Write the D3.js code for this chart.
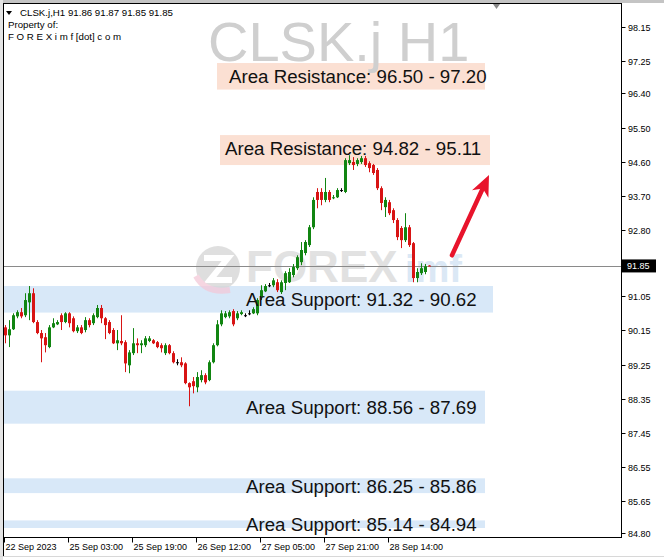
<!DOCTYPE html>
<html><head><meta charset="utf-8">
<script src="https://cdn.jsdelivr.net/npm/d3@7"></script>
<style>body{margin:0;background:#fff}svg{display:block}</style>
</head><body><svg id="c" width="664" height="560"></svg>
<script>
// ---------- DATA ----------
const chartTitle = "CLSK.j H1";
const headerLines = ["CLSK.j,H1  91.86 91.87 91.85 91.85", "Property of:", "F O R E X i m f [dot] c o m"];

const opens = [90.23,90.02,90.18,90.52,90.63,90.55,90.89,91.13,90.37,90.08,89.97,89.71,90.23,90.31,90.55,90.37,90.60,90.47,90.13,90.23,
90.16,90.42,90.34,90.50,90.74,90.47,90.37,90.16,89.81,89.87,89.84,89.23,89.55,89.81,89.76,89.76,89.87,89.89,89.84,89.76,
89.55,89.76,89.55,89.31,89.31,89.28,88.76,88.81,88.65,88.84,88.97,88.84,89.31,89.76,90.31,90.50,90.52,90.66,90.47,90.58,
90.55,90.60,90.60,90.60,91.03,91.18,91.34,91.34,91.42,91.16,91.40,91.42,91.61,91.79,91.95,92.19,92.40,92.87,93.80,93.80,
93.59,93.80,93.64,93.66,93.85,93.80,94.56,94.59,94.54,94.59,94.69,94.56,94.51,94.38,93.90,93.40,93.53,93.32,93.06,92.85,
92.53,92.87,92.45,91.53,91.66,91.69,91.86];
const highs = [90.29,90.42,90.60,90.68,90.74,91.13,91.32,91.26,90.42,90.16,90.08,90.29,90.47,90.42,90.60,90.63,90.63,90.52,90.29,90.29,
90.50,90.47,90.60,90.82,90.82,90.50,90.42,90.21,90.16,90.55,89.89,89.63,90.21,89.94,89.89,90.00,90.00,89.92,89.87,89.81,
89.81,89.79,89.60,89.39,89.44,89.31,88.78,88.92,89.05,89.10,89.02,89.36,89.81,90.42,90.68,90.66,90.68,90.71,90.66,90.68,
90.60,90.68,90.76,91.00,91.34,91.37,91.40,91.53,91.50,91.47,91.71,91.79,91.90,92.13,92.48,92.53,92.93,93.66,93.90,93.90,
94.17,93.85,93.72,93.90,93.90,94.69,94.77,94.72,94.69,94.75,94.75,94.61,94.54,94.43,93.95,93.66,93.59,93.37,93.11,92.90,
93.24,92.93,92.48,91.79,91.92,91.90,91.87];
const lows = [89.81,89.71,90.16,90.47,90.47,90.50,90.42,90.34,90.05,89.31,89.57,89.68,90.21,90.29,90.16,90.34,90.23,90.10,90.08,90.05,
90.10,90.23,90.29,90.47,90.34,89.92,90.05,89.79,89.63,89.76,89.05,89.02,89.50,89.55,89.55,89.71,89.84,89.79,89.68,89.57,
89.50,89.52,89.28,89.23,89.18,88.73,88.15,88.49,88.52,88.78,88.73,88.81,89.28,89.73,90.26,90.47,90.47,90.26,90.42,90.55,
90.50,90.55,90.58,90.55,90.95,91.16,91.29,91.29,91.16,91.11,91.21,91.40,91.55,91.74,91.87,92.13,92.35,92.82,93.37,93.45,
93.53,93.53,93.61,93.64,93.80,93.77,94.51,94.38,94.48,94.54,94.46,94.32,94.25,93.85,93.32,93.14,93.19,92.98,92.53,92.32,
92.48,92.35,91.42,91.42,91.61,91.63,91.85];
const closes = [90.02,90.18,90.55,90.63,90.52,90.95,91.13,90.37,90.08,89.94,89.76,90.23,90.34,90.37,90.37,90.60,90.34,90.13,90.23,90.08,
90.42,90.29,90.55,90.74,90.47,90.29,90.08,89.81,89.89,89.81,89.28,89.57,89.81,89.76,89.81,89.94,89.94,89.81,89.71,89.68,
89.76,89.55,89.31,89.31,89.23,88.76,88.65,88.68,88.92,88.97,88.78,89.31,89.76,90.31,90.60,90.60,90.63,90.31,90.60,90.63,
90.55,90.60,90.71,90.95,91.21,91.32,91.34,91.47,91.21,91.42,91.66,91.69,91.82,92.08,92.27,92.48,92.87,93.59,93.59,93.59,
93.80,93.59,93.66,93.85,93.85,94.64,94.64,94.51,94.64,94.69,94.51,94.43,94.30,93.90,93.51,93.59,93.24,93.06,92.61,92.53,
92.87,92.40,91.53,91.69,91.79,91.84,91.85];

const timeTickIndex = [0,16,32,48,64,80,96];
const timeTickLabels = ["22 Sep 2023","25 Sep 03:00","25 Sep 19:00","26 Sep 12:00","27 Sep 05:00","27 Sep 21:00","28 Sep 14:00"];
const priceTicks = [98.15,97.25,96.40,95.50,94.60,93.70,92.80,91.05,90.15,89.25,88.35,87.45,86.55,85.65,84.80];
const priceTickLabels = ["98.15","97.25","96.40","95.50","94.60","93.70","92.80","91.05","90.15","89.25","88.35","87.45","86.55","85.65","84.80"];
const lastPrice = 91.85;
const lastPriceLabel = "91.85";

const zoneKind   = ["res","res","sup","sup","sup","sup"];
const zoneLabels = ["Area Resistance: 96.50 - 97.20","Area Resistance: 94.82 - 95.11","Area Support: 91.32 - 90.62",
                    "Area Support: 88.56 - 87.69","Area Support: 86.25 - 85.86","Area Support: 85.14 - 84.94"];
const zoneLabelHigh = [97.20, 95.11, 91.32, 88.56, 86.25, 85.14];
const zoneLabelLow  = [96.50, 94.82, 90.62, 87.69, 85.86, 84.94];
const zoneBoxHigh   = [97.20, 95.30, 91.32, 88.56, 86.25, 85.14];
const zoneBoxLow    = [96.50, 94.51, 90.62, 87.69, 85.86, 84.94];
const zoneStartBar  = [53, 53.75, -5, -5, -5, -5];
const zoneEndBar    = [120, 121.25, 122, 120, 120, 120];
const zoneLabelBar  = [56, 55, 60.25, 60.25, 60.25, 60.25];

const arrowFrom = [111.75, 92.13];
const arrowTo   = [121, 94.25];

// ---------- LAYOUT ----------
const W = 664, H = 560;
const plot = {left: 3.5, top: 3.5, right: 621.5, bottom: 537.5};
const svg = d3.select("#c");
const x = d3.scaleLinear().domain([0, 106]).range([5, 429]);
const y = d3.scaleLinear().domain([84.80, 98.15]).range([533.3, 27]);
const FONT = "'Liberation Sans', Arial, sans-serif";
const GREEN = "#118511", RED = "#d81414";

// window frame pieces
svg.append("rect").attr("x",0).attr("y",0).attr("width",W).attr("height",3).attr("fill","#c4c4c4");
svg.append("rect").attr("x",0).attr("y",0).attr("width",3).attr("height",H).attr("fill","#e4e4e4");
svg.append("line").attr("x1",0).attr("x2",W).attr("y1",556.5).attr("y2",556.5).attr("stroke","#d8d8d8");

const clipId = "plotclip";
svg.append("clipPath").attr("id",clipId).append("rect")
  .attr("x",plot.left).attr("y",plot.top).attr("width",plot.right-plot.left).attr("height",plot.bottom-plot.top);
const g = svg.append("g").attr("clip-path",`url(#${clipId})`);

// zones
const zones = zoneLabels.map((t,i)=>({t, kind:zoneKind[i], bh:zoneBoxHigh[i], bl:zoneBoxLow[i],
  lh:zoneLabelHigh[i], ll:zoneLabelLow[i], s:zoneStartBar[i], e:zoneEndBar[i], lx:zoneLabelBar[i]}));
g.selectAll("rect.zone").data(zones).join("rect").attr("class","zone")
  .attr("x",d=>x(d.s)).attr("width",d=>x(d.e)-x(d.s))
  .attr("y",d=>y(d.bh)).attr("height",d=>y(d.bl)-y(d.bh))
  .attr("fill",d=>d.kind==="res"?"#fbe0d3":"#d8e8f8");

// title watermark
g.append("text").attr("x",208).attr("y",61).attr("font-family",FONT).attr("font-size",56)
  .attr("fill","#cfcfcf").text(chartTitle);

// logo watermark
const wm = g.append("g").attr("opacity",0.75);
wm.append("circle").attr("cx",218).attr("cy",268).attr("r",22).attr("fill","#d4d4d4");
wm.append("path").attr("d","M204,258 L228,258 L210,280 L232,280").attr("fill","none").attr("stroke","#fff").attr("stroke-width",6);
wm.append("path").attr("d","M196,276 Q206,294 230,290").attr("fill","none").attr("stroke","#f3c9d8").attr("stroke-width",6);
wm.append("text").attr("x",246).attr("y",282).attr("font-family",FONT).attr("font-weight","bold")
  .attr("font-size",44).attr("fill","#d8d8d8").text("FOREX");
wm.append("text").attr("x",405).attr("y",282).attr("font-family",FONT).attr("font-weight","bold")
  .attr("font-size",38).attr("fill","#cfe1f2").text("imf");

// current price line
g.append("line").attr("x1",plot.left).attr("x2",plot.right)
  .attr("y1",Math.round(y(lastPrice))+0.5).attr("y2",Math.round(y(lastPrice))+0.5)
  .attr("stroke","#8a8a8a").attr("stroke-width",1);

// candles
const bars = opens.map((o,i)=>({i,o,h:highs[i],l:lows[i],c:closes[i]}));
const col = d=> d.c>d.o?GREEN:(d.c<d.o?RED:"#000");
const cg = g.append("g");
cg.selectAll("line.wick").data(bars).join("line").attr("class","wick")
  .attr("x1",d=>Math.round(x(d.i))+0.5).attr("x2",d=>Math.round(x(d.i))+0.5)
  .attr("y1",d=>y(d.h)).attr("y2",d=>y(d.l)).attr("stroke",col).attr("stroke-width",1);
cg.selectAll("rect.body").data(bars).join("rect").attr("class","body")
  .attr("x",d=>Math.round(x(d.i))-1).attr("width",3)
  .attr("y",d=>y(Math.max(d.o,d.c)))
  .attr("height",d=>Math.max(1,Math.abs(y(d.o)-y(d.c))))
  .attr("fill",col);

// zone labels
g.selectAll("text.zl").data(zones).join("text").attr("class","zl")
  .attr("x",d=>x(d.lx)).attr("y",d=>(y(d.lh)+y(d.ll))/2+7)
  .attr("font-family",FONT).attr("font-size",18.7).attr("fill","#111").text(d=>d.t);

// arrow
const p0=[x(arrowFrom[0]),y(arrowFrom[1])], p1=[x(arrowTo[0]),y(arrowTo[1])];
const L=Math.hypot(p1[0]-p0[0],p1[1]-p0[1]); const dx=(p1[0]-p0[0])/L, dy=(p1[1]-p0[1])/L;
const nx=-dy, ny=dx, HL=21, HW=9;
const base=[p1[0]-dx*HL,p1[1]-dy*HL], notch=[p1[0]-dx*15,p1[1]-dy*15];
g.append("line").attr("x1",p0[0]).attr("y1",p0[1]).attr("x2",notch[0]).attr("y2",notch[1])
  .attr("stroke","#e8142c").attr("stroke-width",4.5).attr("stroke-linecap","round");
g.append("path").attr("d",`M${p1[0]},${p1[1]} L${base[0]+nx*HW},${base[1]+ny*HW} L${notch[0]},${notch[1]} L${base[0]-nx*HW},${base[1]-ny*HW} Z`)
  .attr("fill","#e8142c");

// header
const hdr = svg.append("g").attr("font-family",FONT).attr("font-size",9.7).attr("fill","#000");
hdr.append("path").attr("d","M6,11 L12,11 L9,15 Z").attr("fill","#000");
hdr.append("text").attr("x",20).attr("y",16).text(headerLines[0]);
hdr.append("text").attr("x",8).attr("y",28).text(headerLines[1]);
hdr.append("text").attr("x",8).attr("y",40).text(headerLines[2]);
// shift marker
svg.append("path").attr("d","M493,4 L500,4 L496.5,9 Z").attr("fill","#888");

// frame
svg.append("rect").attr("x",plot.left).attr("y",plot.top).attr("width",plot.right-plot.left)
  .attr("height",plot.bottom-plot.top).attr("fill","none").attr("stroke","#000");
svg.append("line").attr("x1",plot.left).attr("x2",plot.left).attr("y1",plot.bottom).attr("y2",556).attr("stroke","#000");

// right axis
const ra = svg.append("g").attr("font-family",FONT).attr("font-size",9).attr("fill","#000");
priceTicks.forEach((v,i)=>{
  const yy=Math.round(y(v))+0.5;
  ra.append("line").attr("x1",plot.right).attr("x2",plot.right+4).attr("y1",yy).attr("y2",yy).attr("stroke","#000");
  ra.append("text").attr("x",628).attr("y",yy+3.3).text(priceTickLabels[i]);
});
const ly=y(lastPrice);
svg.append("rect").attr("x",622).attr("y",ly-6.5).attr("width",34).attr("height",13).attr("fill","#000");
svg.append("text").attr("x",627).attr("y",ly+3.3).attr("font-family",FONT).attr("font-size",9).attr("fill","#fff").text(lastPriceLabel);

// bottom axis
const ba = svg.append("g").attr("font-family",FONT).attr("font-size",9).attr("fill","#000");
timeTickIndex.forEach((b,i)=>{
  const xx=Math.round(x(b))-0.5;
  ba.append("line").attr("x1",xx).attr("x2",xx).attr("y1",plot.bottom).attr("y2",plot.bottom+5).attr("stroke","#000");
  ba.append("text").attr("x",xx+1).attr("y",550).text(timeTickLabels[i]);
});
</script></body></html>
